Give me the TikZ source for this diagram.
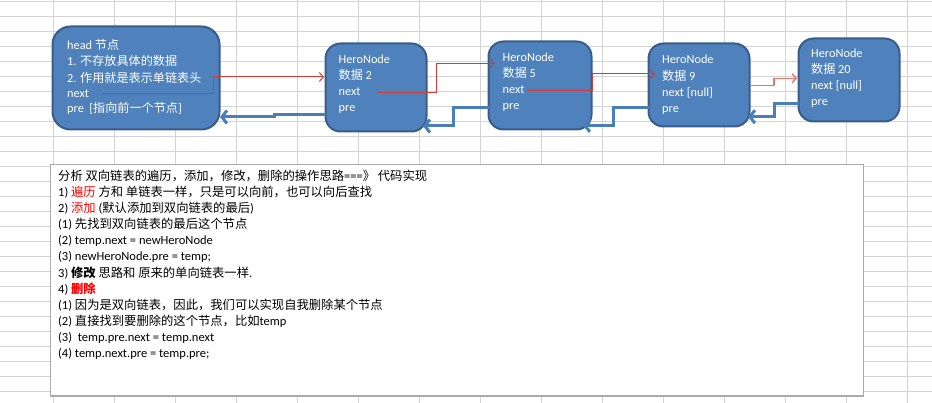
\documentclass[tikz,border=0pt]{standalone}
\usepackage{fontspec}
\setmainfont{Carlito}
\newfontfamily\zhfont[Scale=0.985]{Noto Sans CJK SC}
\newcommand\zh[1]{{\zhfont #1}}
\usetikzlibrary{arrows.meta}
\definecolor{gridgray}{RGB}{212,212,212}
\definecolor{boxfill}{RGB}{79,129,189}
\definecolor{boxborder}{RGB}{56,93,138}
\definecolor{redline}{RGB}{214,58,52}
\definecolor{paleredline}{RGB}{228,115,110}
\definecolor{blueline}{RGB}{74,126,187}
\definecolor{frameline}{RGB}{170,170,170}
\definecolor{hot}{RGB}{255,0,0}
\tikzset{
  gridline/.style={draw=gridgray, line width=0.9pt},
  hbox/.style={draw=boxborder, fill=boxfill, line width=2pt, inner sep=0pt},
  wt/.style={anchor=base west, inner sep=0pt, text=white, font=\fontsize{12.3}{14}\selectfont},
  txtline/.style={anchor=base west, inner sep=0pt, text=black, font=\fontsize{12.5}{14}\selectfont},
  nextarr/.style={draw=redline, line width=1pt, -{Straight Barb[length=4pt,width=9pt]}},
  prearr/.style={draw=blueline, line width=3pt, -{Straight Barb[length=5pt,width=13pt]}},
}
\begin{document}
\begin{tikzpicture}[x=1pt,y=-1pt]
\useasboundingbox (0,0) rectangle (932,403);
% spreadsheet grid
\foreach \k in {0,...,14} {\draw[gridline] (53.3+61.03*\k,0) -- (53.3+61.03*\k,403);}
\foreach \k in {0,...,26} {\draw[gridline] (0,1.3+15.02*\k) -- (932,1.3+15.02*\k);}
% text frame
\node[draw=frameline, fill=white, line width=1.2pt, inner sep=0pt, minimum width=812.6pt, minimum height=231.7pt] (frame) at (457,280.15) {};
% boxes
\node[hbox, rounded corners=18pt, minimum width=167pt, minimum height=103pt] (head) at (136,78) {};
\node[hbox, rounded corners=15pt, minimum width=101pt, minimum height=88pt] (n2) at (376,87.5) {};
\node[hbox, rounded corners=15pt, minimum width=103pt, minimum height=88pt] (n5) at (540,85.5) {};
\node[hbox, rounded corners=15pt, minimum width=101pt, minimum height=83pt] (n9) at (699,85) {};
\node[hbox, rounded corners=15pt, minimum width=101pt, minimum height=83pt] (n20) at (849,80) {};
% head text
\node[wt] (h1) at (67,49.3) {head \zh{节点}};
\node[wt] (h2) at (67,65.7) {1. \zh{不存放具体的数据}};
\node[wt] (h3) at (67,82.2) {2. \zh{作用就是表示单链表头}};
\node[wt] (h4) at (67,97.3) {next};
\node[wt] (h5) at (67,113) {pre \ [\zh{指向前一个节点}]};
% node 2
\node[wt] (a1) at (338.5,63.3) {HeroNode};
\node[wt] (a2) at (338.5,79.5) {\zh{数据} 2};
\node[wt] (a3) at (338.5,95.3) {next};
\node[wt] (a4) at (338.5,111.2) {pre};
% node 5
\node[wt] (b1) at (502.5,61.3) {HeroNode};
\node[wt] (b2) at (502.5,77.8) {\zh{数据} 5};
\node[wt] (b3) at (502.5,94) {next};
\node[wt] (b4) at (502.5,110) {pre};
% node 9
\node[wt] (c1) at (662,64) {HeroNode};
\node[wt] (c2) at (662,80.5) {\zh{数据} 9};
\node[wt] (c3) at (662,96.5) {next [null]};
\node[wt] (c4) at (662,112.3) {pre};
% node 20
\node[wt] (d1) at (811,57.5) {HeroNode};
\node[wt] (d2) at (811,73.5) {\zh{数据} 20};
\node[wt] (d3) at (811,89.5) {next [null]};
\node[wt] (d4) at (811,105.3) {pre};
% next pointers (red)
\coordinate (hs) at (103,94);
\coordinate (hk1) at (213,94);
\coordinate (hk2) at (213,77);
\coordinate (ht) at (324,77);
\draw[nextarr] (hs) -- (hk1) -- (hk2) -- (ht);
\coordinate (as) at (378,92.3);
\coordinate (ak1) at (436.7,92.3);
\coordinate (ak2) at (436.7,63.3);
\coordinate (at2) at (495,63.3);
\draw[nextarr] (as) -- (ak1) -- (ak2) -- (at2);
\coordinate (bs) at (527,91);
\coordinate (bk1) at (592,91);
\coordinate (bk2) at (592,74);
\coordinate (bt) at (655,74);
\draw[nextarr] (bs) -- (bk1) -- (bk2) -- (bt);
\coordinate (cs) at (750,85.7);
\coordinate (ck1) at (774,85.7);
\coordinate (ck2) at (774,78.3);
\coordinate (ct) at (797,78.3);
\draw[nextarr, draw=paleredline, line width=1.4pt] (cs) -- (ck1) -- (ck2) -- (ct);
% pre pointers (blue)
\coordinate (p1s) at (326,115);
\coordinate (p1k1) at (274,115);
\coordinate (p1k2) at (274,117);
\coordinate (p1t) at (220,117);
\draw[prearr] (p1s) -- (p1k1) -- (p1k2) -- (p1t);
\coordinate (p2s) at (489,107.3);
\coordinate (p2k1) at (453.3,107.3);
\coordinate (p2k2) at (453.3,126);
\coordinate (p2t) at (423,126);
\draw[prearr] (p2s) -- (p2k1) -- (p2k2) -- (p2t);
\coordinate (p3s) at (649,107.7);
\coordinate (p3k1) at (613.3,107.7);
\coordinate (p3k2) at (613.3,125.5);
\coordinate (p3t) at (583,125.5);
\draw[prearr] (p3s) -- (p3k1) -- (p3k2) -- (p3t);
\coordinate (p4s) at (799,103.3);
\coordinate (p4k1) at (774,103.3);
\coordinate (p4k2) at (774,116.7);
\coordinate (p4t) at (748,116.7);
\draw[prearr] (p4s) -- (p4k1) -- (p4k2) -- (p4t);
% description text
\node[txtline] (t1) at (58,180.5) {\zh{分析 双向链表的遍历，添加，修改，删除的操作思路}===\zh{》 代码实现}};
\node[txtline] (t2) at (58,196.6) {1) \textcolor{hot}{\zh{遍历}} \zh{方和 单链表一样，只是可以向前，也可以向后查找}};
\node[txtline] (t3) at (58,212.7) {2) \textcolor{hot}{\zh{添加}} (\zh{默认添加到双向链表的最后})};
\node[txtline] (t4) at (58,228.8) {(1) \zh{先找到双向链表的最后这个节点}};
\node[txtline] (t5) at (58,244.9) {(2) temp.next = newHeroNode};
\node[txtline] (t6) at (58,261) {(3) newHeroNode.pre = temp;};
\node[txtline] (t7) at (58,277.1) {3) {\zhfont\bfseries 修改} \zh{思路和 原来的单向链表一样}.};
\node[txtline] (t8) at (58,293.2) {4) \textcolor{hot}{\zhfont\bfseries 删除}};
\node[txtline] (t9) at (58,309.3) {(1) \zh{因为是双向链表，因此，我们可以实现自我删除某个节点}};
\node[txtline] (t10) at (58,325.4) {(2) \zh{直接找到要删除的这个节点，比如}temp};
\node[txtline] (t11) at (58,341.5) {(3) \ temp.pre.next = temp.next};
\node[txtline] (t12) at (58,357.6) {(4) temp.next.pre = temp.pre;};
\end{tikzpicture}
\end{document}
